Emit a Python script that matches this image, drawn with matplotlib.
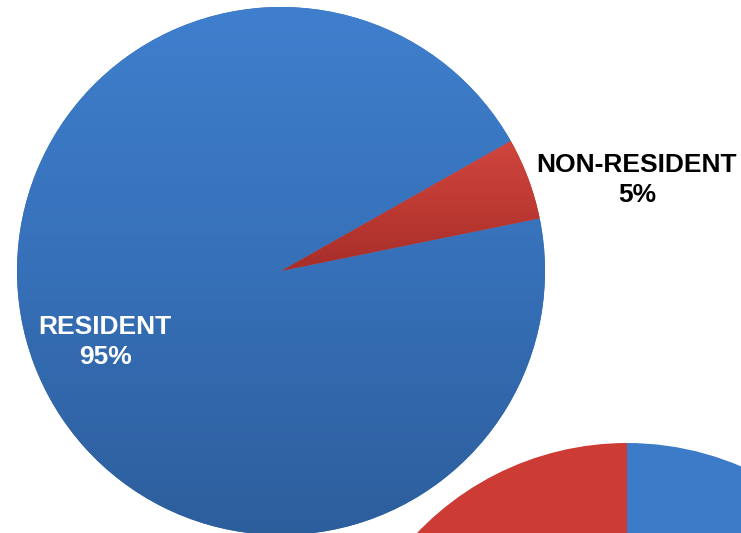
import numpy as np
import matplotlib
matplotlib.use("Agg")
import matplotlib.pyplot as plt
from matplotlib.colors import LinearSegmentedColormap

# Data
main_labels = ["RESIDENT", "NON-RESIDENT"]
main_values = [95, 5]
second_labels = ["Blue", "Red"]
second_values = [70, 30]

W, H = 741, 533
fig = plt.figure(figsize=(W / 100, H / 100), dpi=100)
ax = fig.add_axes([0, 0, 1, 1])

blue_cmap = LinearSegmentedColormap.from_list("b", ["#3f7fcd", "#3670b8", "#2d5e9c"])
red_cmap = LinearSegmentedColormap.from_list("r", ["#d0463e", "#bc3932", "#a32c28"])


def gradient_fill(ax, wedge, cmap, y0, y1):
    grad = np.linspace(0, 1, 256).reshape(-1, 1)
    im = ax.imshow(grad, cmap=cmap, extent=[0, W, y1, y0], aspect="auto",
                   zorder=wedge.get_zorder() + 0.1)
    im.set_clip_path(wedge)


# Main pie (y axis is inverted, so angles are mirrored)
c1 = (281, 271)
r1 = 264
wedges, texts = ax.pie(main_values, center=c1, radius=r1, startangle=-29.5,
                       counterclock=False, colors=["#3670b8", "#bf3a33"],
                       wedgeprops=dict(linewidth=0), frame=True)
gradient_fill(ax, wedges[0], blue_cmap, c1[1] - r1, c1[1] + r1)
gradient_fill(ax, wedges[1], red_cmap, 140, 280)

# Second pie (partially visible)
c2 = (627, 733)
r2 = 290
w2, t2 = ax.pie(second_values, center=c2, radius=r2, startangle=-90, counterclock=True,
                colors=["#3b7bc8", "#cc3c35"], wedgeprops=dict(linewidth=0), frame=True)

ax.set_xlim(0, W)
ax.set_ylim(H, 0)
ax.set_aspect("equal")
ax.axis("off")

ax.text(105, 342, f"{main_labels[0]}\n{main_values[0]}%", color="white", fontsize=19,
        fontweight="bold", ha="center", va="center", family="Liberation Sans", linespacing=1.32)
ax.text(637, 180, f"{main_labels[1]}\n{main_values[1]}%", color="black", fontsize=19,
        fontweight="bold", ha="center", va="center", family="Liberation Sans", linespacing=1.32)

fig.savefig("out.png", dpi=100)
